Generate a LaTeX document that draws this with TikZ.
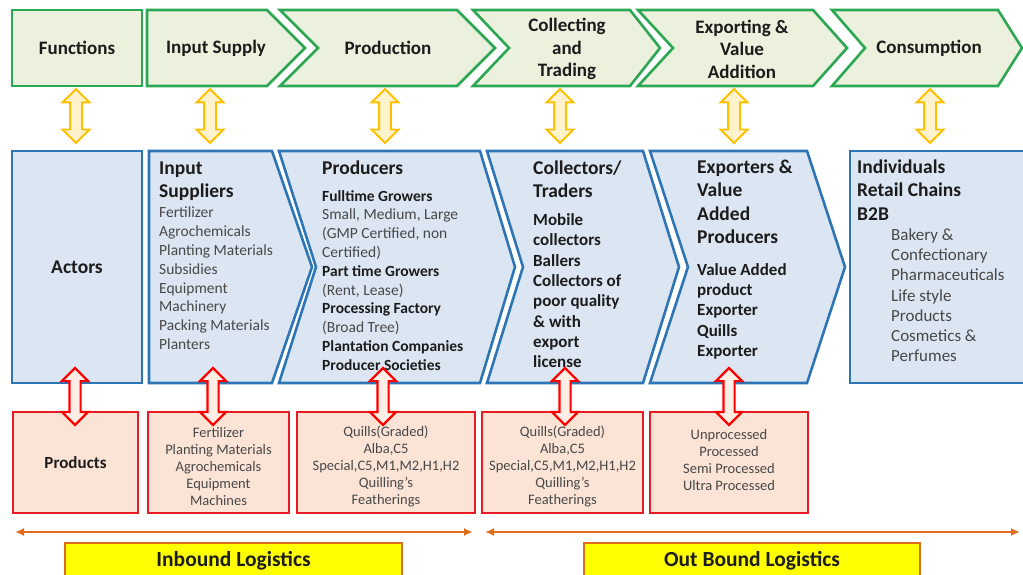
\documentclass[tikz,border=0pt]{standalone}
\usepackage{fontspec}
\setmainfont{Carlito}
\usetikzlibrary{arrows.meta,shapes.arrows}

\definecolor{fungreen}{RGB}{44,168,84}
\definecolor{funfill}{RGB}{235,241,221}
\definecolor{actblue}{RGB}{46,117,182}
\definecolor{actfill}{RGB}{220,230,242}
\definecolor{prodred}{RGB}{232,28,36}
\definecolor{prodfill}{RGB}{251,227,213}
\definecolor{linkgold}{RGB}{255,192,0}
\definecolor{linkfill}{RGB}{255,243,205}
\definecolor{logorange}{RGB}{222,110,30}
\definecolor{logyellow}{RGB}{255,255,0}
\definecolor{darktext}{RGB}{28,28,28}
\definecolor{greytext}{RGB}{72,72,72}

\newcommand{\boldline}[1]{\textcolor{darktext}{\textbf{#1}}}

\begin{document}
\begin{tikzpicture}[
    x=1pt, y=-1pt,
    >={Latex[length=9pt,width=8pt]},
    text=darktext,
    func/.style={
		draw=fungreen,
		fill=funfill,
		line width=2.6pt
	},
    actor/.style={
		draw=actblue,
		fill=actfill,
		line width=2.6pt
	},
    product/.style={
		draw=prodred,
		fill=prodfill,
		line width=2.6pt,
		minimum height=101pt
	},
    toptext/.style={
		align=center,
		font=\fontsize{19}{22.5}\selectfont\bfseries
	},
    head/.style={
		anchor=north west,
		inner sep=0pt,
		align=left,
		font=\fontsize{19.5}{23.3}\selectfont\bfseries
	},
    items/.style={
		anchor=north west,
		inner sep=0pt,
		align=left,
		text=greytext,
		font=\fontsize{15.5}{18.8}\selectfont
	},
    bigitems/.style={
		anchor=north west,
		inner sep=0pt,
		align=left,
		text=greytext,
		font=\fontsize{17}{20.3}\selectfont
	},
    prodtext/.style={
		align=center,
		text=greytext,
		font=\fontsize{14.5}{17}\selectfont
	},
    updown/.style={
		double arrow,
		rotate=90,
		draw=linkgold,
		fill=linkfill,
		line width=1.8pt,
		inner sep=5pt,
		minimum height=54pt,
		double arrow head extend=7.5pt
	},
    redlink/.style={
		double arrow,
		rotate=90,
		draw=red,
		fill=prodfill!60!white,
		line width=2.2pt,
		inner sep=4.5pt,
		minimum height=57pt,
		double arrow head extend=7.5pt
	},
    logline/.style={
		draw=logorange,
		line width=2.4pt,
		<->
	},
    logbox/.style={
		draw=logorange,
		fill=logyellow,
		line width=2pt,
		font=\fontsize{21.5}{25}\selectfont\bfseries
	}
  ]
  \useasboundingbox (0,0) rectangle (1023,575);

  % functions (top row)
  \node [func, toptext, minimum width=130pt, minimum height=76pt] (fun) at (77,48) {Functions};
  \draw [func] (147,10) -- (267,10) -- (305,48) -- (267,86) -- (147,86) -- cycle;
  \node [toptext] (supply) at (216,48) {Input Supply};
  \draw [func] (280,10) -- (457,10) -- (495,48) -- (457,86) -- (280,86) -- (318,48) -- cycle;
  \node [toptext] (production) at (388,48) {Production};
  \draw [func] (473,10) -- (630,10) -- (660,48) -- (630,86) -- (473,86) -- (509,48) -- cycle;
  \node [toptext] (trading) at (567,49) {Collecting\\and\\Trading};
  \draw [func] (638,10) -- (813,10) -- (847,48) -- (813,86) -- (638,86) -- (673,48) -- cycle;
  \node [toptext] (exporting) at (742,49) {Exporting \&\\Value\\Addition};
  \draw [func] (832,10) -- (998,10) -- (1022,48) -- (998,86) -- (832,86) -- (865,48) -- cycle;
  \node [toptext] (consumption) at (929,48) {Consumption};

  % actors (middle row)
  \node [actor, minimum width=130pt, minimum height=232pt, font=\fontsize{19.5}{23.3}\selectfont\bfseries] (act) at (77,267) {Actors};

  \draw [actor] (149,151) -- (272,151) -- (312,267) -- (272,383) -- (149,383) -- cycle;
  \node [head] (supHead) at (159,157.9) {\strut Input\\Suppliers};
  \node [items] (supItems) at (159,204.5) {\strut Fertilizer\\Agrochemicals\\Planting Materials\\Subsidies\\Equipment\\Machinery\\Packing Materials\\Planters};

  \draw [actor] (279,151) -- (480,151) -- (515,267) -- (480,383) -- (279,383) -- (316,267) -- cycle;
  \node [head] (proHead) at (322,157.9) {\strut Producers};
  \node [items] (proItems) at (322,187.8) {\strut\boldline{Fulltime Growers}\\Small, Medium, Large\\(GMP Certified, non\\Certified)\\\boldline{Part time Growers}\\(Rent, Lease)\\\boldline{Processing Factory}\\(Broad Tree)\\\boldline{Plantation Companies}\\\boldline{Producer Societies}};

  \draw [actor] (487,151) -- (643,151) -- (679,267) -- (643,383) -- (487,383) -- (523,267) -- cycle;
  \node [head] (colHead) at (533,157.9) {\strut Collectors/\\Traders};
  \node [bigitems, text=darktext, font=\fontsize{17}{20.3}\selectfont\bfseries] (colItems) at (533,211.2) {\strut Mobile\\collectors\\Ballers\\Collectors of\\poor quality\\\& with\\export\\license};

  \draw [actor] (650,151) -- (807,151) -- (845,267) -- (807,383) -- (650,383) -- (688,267) -- cycle;
  \node [head] (expHead) at (697,156.9) {\strut Exporters \&\\Value\\Added\\Producers};
  \node [bigitems, text=darktext, font=\fontsize{17}{20.2}\selectfont\bfseries] (expItems) at (697,261.2) {\strut Value Added\\product\\Exporter\\Quills\\Exporter};

  \draw [actor] (850,151) rectangle (1035,383);
  \node [head] (conHead) at (857,156.9) {\strut Individuals\\Retail Chains\\B2B};
  \node [bigitems, font=\fontsize{17}{20.2}\selectfont] (conItems) at (891,226.2) {\strut Bakery \&\\Confectionary\\Pharmaceuticals\\Life style\\Products\\Cosmetics \&\\Perfumes};

  % products (bottom row)
  \node [product, minimum width=125pt, font=\fontsize{17}{20}\selectfont\bfseries] (prods) at (75.5,462.5) {Products};
  \node [product, minimum width=141pt] (inputs) at (218.5,462.5) {};
  \node [prodtext] (inputsText) at (218.5,466.5) {Fertilizer\\Planting Materials\\Agrochemicals\\Equipment\\Machines};
  \node [product, minimum width=178pt] (quills) at (386,462.5) {};
  \node [prodtext] (quillsText) at (386,466) {Quills(Graded)\\Alba,C5\\Special,C5,M1,M2,H1,H2\\Quilling's\\Featherings};
  \node [product, minimum width=161pt] (traded) at (562.5,462.5) {};
  \node [prodtext] (tradedText) at (562.5,466) {Quills(Graded)\\Alba,C5\\Special,C5,M1,M2,H1,H2\\Quilling's\\Featherings};
  \node [product, minimum width=158pt] (processed) at (729,462.5) {};
  \node [prodtext] (processedText) at (729,460) {Unprocessed\\Processed\\Semi Processed\\Ultra Processed};

  % links between the rows
  \node [updown] (linkFun) at (76,116) {};
  \node [updown] (linkSup) at (210,116) {};
  \node [updown] (linkPro) at (385,116) {};
  \node [updown] (linkCol) at (560,116) {};
  \node [updown] (linkExp) at (734,116) {};
  \node [updown] (linkCon) at (930,116) {};

  \node [redlink] (redAct) at (75,396.5) {};
  \node [redlink] (redSup) at (213,396.5) {};
  \node [redlink] (redPro) at (383,396.5) {};
  \node [redlink] (redCol) at (565,396.5) {};
  \node [redlink] (redExp) at (729,396.5) {};

  % logistics
  \coordinate (inStart) at (15,532);
  \coordinate (inEnd) at (473,532);
  \coordinate (outStart) at (485,532);
  \coordinate (outEnd) at (1020,532);
  \draw [logline] (inStart) -- (inEnd);
  \draw [logline] (outStart) -- (outEnd);

  \node [logbox, minimum width=337pt, minimum height=36pt] (inbound) at (233.5,561) {Inbound Logistics};
  \node [logbox, minimum width=336pt, minimum height=36pt] (outbound) at (752,561) {Out Bound Logistics};

\end{tikzpicture}
\end{document}
